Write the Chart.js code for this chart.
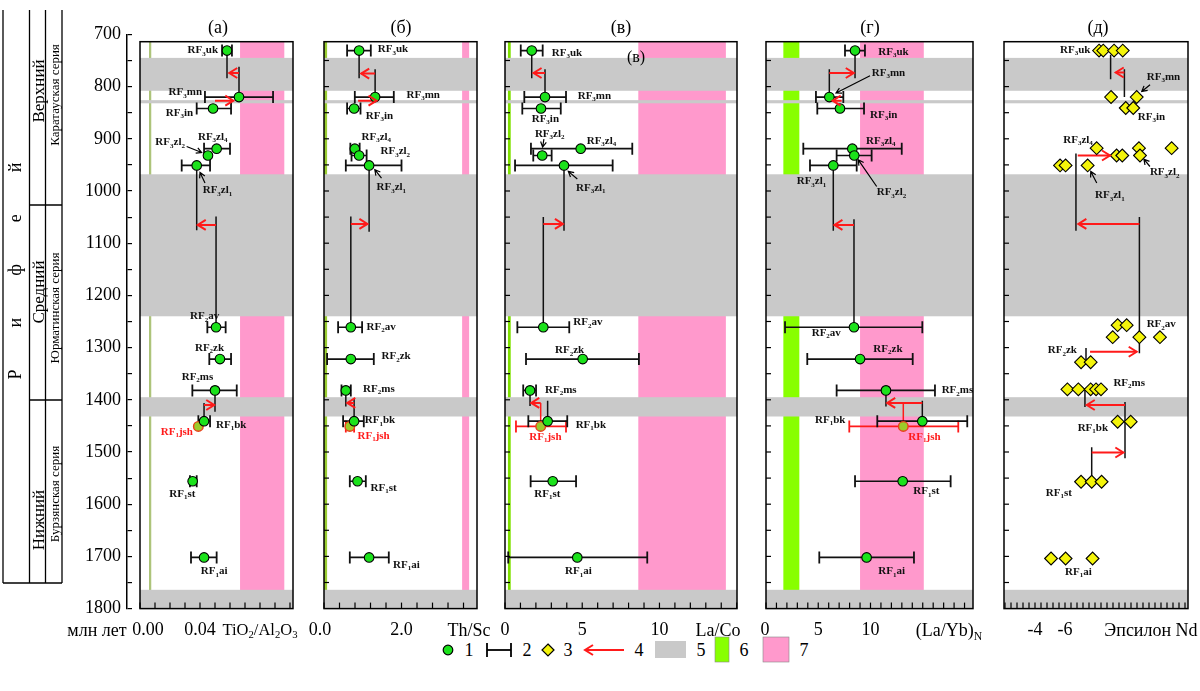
<!DOCTYPE html>
<html lang="ru">
<head>
<meta charset="utf-8">
<title>Рифей</title>
<script src="https://cdn.jsdelivr.net/npm/chart.js@4.4.1/dist/chart.umd.min.js"></script>
<style>
html,body{margin:0;padding:0;background:#fff;}
#page{position:relative;width:1200px;height:691px;overflow:hidden;font-family:"Liberation Serif","Times New Roman",serif;color:#000;}
#page canvas{position:absolute;left:0;top:0;}
#page svg{position:absolute;left:0;top:0;}
.t{position:absolute;white-space:nowrap;transform:translate(-50%,-50%);line-height:1;font-size:18px;}
.r{position:absolute;white-space:nowrap;transform:translate(-50%,-50%) rotate(-90deg);line-height:1;}
sub{font-size:0.65em;vertical-align:-0.3em;line-height:0;}
</style>
</head>
<body>
<div id="page">
<svg width="1200" height="691" font-family="Liberation Serif" font-size="18">
  <g stroke="#000" stroke-width="1.3" fill="none">
    <line x1="3" y1="10" x2="3" y2="583"/>
    <line x1="29.5" y1="10" x2="29.5" y2="583"/>
    <line x1="45.5" y1="10" x2="45.5" y2="583"/>
    <line x1="62" y1="10" x2="62" y2="583"/>
    <line x1="3" y1="583" x2="62" y2="583"/>
    <line x1="29.5" y1="205" x2="62" y2="205"/>
    <line x1="29.5" y1="400" x2="62" y2="400"/>
  </g>
  <!-- legend -->
  <circle cx="448" cy="650" r="4.8" fill="#1be21b" stroke="#000" stroke-width="1.2"/>
  <text x="469" y="650" text-anchor="middle" dominant-baseline="central">1</text>
  <g stroke="#000" stroke-width="1.8"><line x1="487" y1="650" x2="511" y2="650"/><line x1="487" y1="643" x2="487" y2="657"/><line x1="511" y1="643" x2="511" y2="657"/></g>
  <text x="527" y="650" text-anchor="middle" dominant-baseline="central">2</text>
  <polygon points="548,644 554,650 548,656 542,650" fill="#f4f40a" stroke="#000" stroke-width="1.2"/>
  <text x="568" y="650" text-anchor="middle" dominant-baseline="central">3</text>
  <g stroke="#ff1a1a" stroke-width="2" fill="none"><line x1="585" y1="650" x2="624" y2="650"/><polyline points="593,645 585,650 593,655"/></g>
  <text x="639" y="650" text-anchor="middle" dominant-baseline="central">4</text>
  <rect x="655" y="641" width="31" height="17" fill="#c9c9c9"/>
  <text x="701" y="650" text-anchor="middle" dominant-baseline="central">5</text>
  <rect x="715" y="637" width="14" height="25" fill="#88ff00" stroke="#888" stroke-width="0.6"/>
  <text x="744" y="650" text-anchor="middle" dominant-baseline="central">6</text>
  <rect x="763" y="637" width="26" height="25" fill="#ff99cc" stroke="#888" stroke-width="0.6"/>
  <text x="804" y="650" text-anchor="middle" dominant-baseline="central">7</text>
</svg>

<canvas id="cAxis" width="1200" height="691"></canvas>
<canvas id="ca" width="1200" height="691"></canvas>
<canvas id="cb" width="1200" height="691"></canvas>
<canvas id="cc" width="1200" height="691"></canvas>
<canvas id="cd" width="1200" height="691"></canvas>
<canvas id="ce" width="1200" height="691"></canvas>

<!-- stratigraphic column -->
<div class="r" style="left:15px;top:250px;font-size:18px;letter-spacing:42px;">Рифей</div>
<div class="r" style="left:37.5px;top:91px;font-size:17px;">Верхний</div>
<div class="r" style="left:37.5px;top:292px;font-size:17px;">Средний</div>
<div class="r" style="left:37.5px;top:520px;font-size:17px;">Нижний</div>
<div class="r" style="left:54px;top:95px;font-size:13px;">Каратауская серия</div>
<div class="r" style="left:54px;top:308px;font-size:13px;">Юрматинская серия</div>
<div class="r" style="left:54px;top:494px;font-size:13px;">Бурзянская серия</div>

<!-- panel titles -->
<div class="t" style="left:218px;top:27px;">(а)</div>
<div class="t" style="left:401px;top:27px;">(б)</div>
<div class="t" style="left:621px;top:27px;">(в)</div>
<div class="t" style="left:870px;top:27px;">(г)</div>
<div class="t" style="left:1098px;top:27px;">(д)</div>
<div class="t" style="left:636px;top:57px;font-size:16px;">(в)</div>

<!-- axis titles -->
<div class="t" style="left:97px;top:630px;">млн лет</div>
<div class="t" style="left:260px;top:630px;font-size:16.5px;">TiO<sub>2</sub>/Al<sub>2</sub>O<sub>3</sub></div>
<div class="t" style="left:469px;top:630px;">Th/Sc</div>
<div class="t" style="left:718px;top:630px;">La/Co</div>
<div class="t" style="left:949px;top:630px;">(La/Yb)<sub>N</sub></div>
<div class="t" style="left:1151px;top:630px;">Эпсилон Nd</div>
</div>

<script>
// ================= DATA =================
const unitLabels = ['RF_3uk','RF_3mn','RF_3in','RF_3zl_4','RF_3zl_2','RF_3zl_1','RF_2av','RF_2zk','RF_2ms','RF_1bk','RF_1jsh','RF_1st','RF_1ai'];
const ages = [731, 820, 842, 919, 932, 951, 1261, 1322, 1382, 1441, 1451, 1556, 1702];
const JSH = 10;
const ageTicksMajor = [700, 800, 900, 1000, 1100, 1200, 1300, 1400, 1500, 1600, 1700, 1800];
const grayBands = [[745, 808], [826, 832], [968, 1240], [1395, 1432], [1764, 1800]];

// (а) TiO2/Al2O3
const tiAl   = [0.058, 0.066, 0.0487, 0.0511, 0.0453, 0.0378, 0.0507, 0.0533, 0.050, 0.0427, 0.0389, 0.0351, 0.0427];
const tiAlLo = [0.0547, 0.0433, 0.0378, 0.0427, null, 0.0278, 0.0449, 0.0462, 0.0349, 0.0389, null, 0.0333, 0.034];
const tiAlHi = [0.0613, 0.0887, 0.0607, 0.060, null, 0.0467, 0.0571, 0.0607, 0.0645, 0.0467, null, 0.0378, 0.0511];
const tiAlGreen = [0.006, 0.0075];
const tiAlPink = [0.0667, 0.0962];
const tiAlLinks = [[0.058, 731, 784], [0.066, 762, 820], [0.0378, 951, 1075], [0.0507, 1049, 1261], [0.050, 1382, 1423], [0.0427, 1406, 1441]];
const tiAlRedLinks = [];
const tiAlArrows = [[774, 0.066, 0.0595], [827, 0.050, 0.0622], [1065, 0.0507, 0.0385], [1410, 0.0427, 0.0495]];
const tiAlTicks = [[0, '0.00'], [0.04, '0.04']];

// (б) Th/Sc
const thSc   = [0.906, 1.319, 0.777, 0.795, 0.906, 1.164, 0.692, 0.692, 0.563, 0.777, 0.666, 0.865, 1.164];
const thScLo = [0.596, 0.795, 0.596, 0.68, 0.71, 0.563, 0.364, 0.08, 0.452, 0.493, 0.563, 0.666, 0.666];
const thScHi = [1.208, 1.801, 0.942, 0.92, 1.10, 2.0, 0.983, 1.285, 0.692, 1.027, 0.777, 1.079, 1.672];
const thScGreen = [0.0, 0.08];
const thScPink = [3.564, 3.745];
const thScLinks = [[0.906, 731, 784], [1.319, 767, 820], [1.164, 951, 1078], [0.692, 1049, 1261], [0.563, 1382, 1413], [0.777, 1397, 1441]];
const thScRedLinks = [];
const thScArrows = [[775, 1.319, 0.96], [827, 0.88, 1.355], [1063, 0.692, 1.12], [1406, 0.777, 0.60]];
const thScTicks = [[0, '0.0'], [2, '2.0']];

// (в) La/Co
const laCo   = [1.73, 2.59, 2.33, 4.90, 2.41, 3.82, 2.48, 5.03, 1.62, 2.76, 2.31, 3.09, 4.68];
const laCoLo = [1.02, 1.25, 1.12, 1.68, 1.83, 0.65, 0.80, 1.36, 1.18, 1.51, 0.71, 1.66, 0.21];
const laCoHi = [2.44, 3.95, 3.61, 8.24, 3.02, 6.97, 4.16, 8.67, 2.01, 4.03, 3.95, 4.60, 9.21];
const laCoGreen = [0.19, 0.37];
const laCoPink = [8.63, 14.3];
const laCoLinks = [[1.73, 731, 784], [2.59, 767, 820], [3.82, 951, 1076], [2.48, 1050, 1261], [1.62, 1382, 1412], [2.76, 1402, 1441]];
const laCoRedLinks = [[2.31, 1406, 1451]];
const laCoArrows = [[774, 2.59, 1.85], [1063, 2.48, 3.75], [1406, 2.31, 1.7]];
const laCoTicks = [[0, '0'], [5, '5'], [10, '10']];

// (г) (La/Yb)N
const laYb   = [8.52, 6.06, 7.08, 8.26, 8.45, 6.44, 8.42, 9.0, 11.48, 14.96, 13.14, 13.08, 9.63];
const laYbLo = [7.56, 4.78, 4.91, 3.57, 6.76, 4.21, 1.82, 3.95, 6.76, 10.65, 7.97, 8.52, 5.1];
const laYbHi = [9.47, 7.40, 9.38, 12.99, 10.11, 8.68, 14.96, 14.04, 16.17, 19.26, 18.4, 17.67, 14.16];
const laYbGreen = [1.66, 3.19];
const laYbPink = [9.0, 15.1];
const laYbLinks = [[8.52, 731, 784], [6.06, 767, 820], [6.44, 951, 1076], [8.42, 1054, 1261], [11.48, 1382, 1413], [14.96, 1402, 1441]];
const laYbRedLinks = [[13.14, 1406, 1451]];
const laYbArrows = [[774, 6.06, 8.4], [827, 7.24, 6.38], [1065, 8.42, 6.55], [1406, 14.96, 11.6]];
const laYbTicks = [[0, '0'], [5, '5'], [10, '10']];

// (д) Epsilon Nd (diamonds, by group)
const ndUk  = [-8.27, -8.55, -9.27, -9.85];
const ndMn  = [-9.07, -10.78];
const ndIn  = [-10.05, -10.55];
const ndZl4 = [-8.11, -10.93, -13.11];
const ndZl2 = [-9.44, -9.82, -11.0];
const ndZl1 = [-5.67, -6.04, -7.51];
const ndAvA = [-9.51, -10.11];
const ndAvB = [-9.18, -10.96, -12.33];
const ndZk  = [-7.07, -7.71];
const ndMs  = [-6.16, -6.89, -7.71, -8.07, -8.4];
const ndBk  = [-9.51, -10.38];
const ndSt  = [-7.07, -7.78, -8.44];
const ndAi  = [-5.07, -6.04, -7.84];
const ndGroupAges = [731, 820, 841, 918, 932, 951, 1257, 1280, 1328, 1380, 1442, 1557, 1704];
const ndGroupLabels = ['RF_3uk','RF_3mn','RF_3in','RF_3zl_4','RF_3zl_2','RF_3zl_1','RF_2av',null,'RF_2zk','RF_2ms','RF_1bk','RF_1st','RF_1ai'];
const ndLinks = [[-9.04, 739, 786], [-9.96, 767, 820], [-6.73, 928, 1076], [-10.96, 1050, 1311], [-7.4, 1301, 1333], [-7.33, 1378, 1414], [-10.0, 1404, 1512], [-7.78, 1491, 1557]];
const ndArrows = [[773, -9.96, -9.38], [932, -6.85, -9.0], [1063, -10.96, -6.89], [1308, -7.67, -10.78], [1410, -10.0, -7.45], [1501, -7.78, -9.89]];
const ndTicks = [[-4, '-4'], [-6, '-6']];

// ================= LAYOUT / STYLE =================
const W = 1200, H = 691, TOP = 41.7, BOT = 608.6, AGE_MIN = 714, AGE_MAX = 1800;
const FONT = '"Liberation Serif","Times New Roman",serif';
const GRAY = '#c9c9c9', PINK = '#ff99cc', RED = '#ff1a1a';

// label offsets (px from point): [dx, dy, align]
const aLabelPos = [[-9,0,'right'],[-37,-4.6,'right'],[-20,4.8,'right'],[-18.7,-11.7,'left'],[-23,-13,'right'],[6,25,'left'],
  [-26,-10.6,'left'],[-25,-11,'left'],[-33.3,-13.2,'left'],[12,3.7,'left'],[-37.6,5.4,'left'],[-23.4,13,'left'],[-3.3,14,'left']];
const bLabelPos = [[18.7,-1,'left'],[31.4,-2.3,'left'],[11.7,7.2,'left'],[6.7,-11.4,'left'],[21.4,-4,'left'],[7.4,22,'left'],
  [15.7,0,'left'],[30.7,-2.6,'left'],[17.3,-1.2,'left'],[10.7,-0.6,'left'],[7.7,9.4,'left'],[13,7,'left'],[24,7.3,'left']];
const cLabelPos = [[20,2.8,'left'],[32.7,-1.3,'left'],[-9.3,10.8,'left'],[6,-8,'left'],[-7.3,-21.7,'left'],[12,22.6,'left'],
  [30,-4.6,'left'],[-27.7,-8.6,'left'],[15,-0.5,'left'],[28,3.7,'left'],[-11.4,10.4,'left'],[-18.4,13,'left'],[-12.3,14,'left']];
const gLabelPos = [[23.3,1.2,'left'],[42.4,-24,'left'],[30,6.5,'left'],[13.7,-8,'left'],[22.4,37,'left'],[-36.6,16,'left'],
  [-42.3,6,'left'],[13.3,-10,'left'],[55.7,0.2,'left'],[-107.3,-1.3,'left'],[5,10.4,'left'],[10.6,10.4,'left'],[11.6,14,'left']];
const eLabelPos = [[-39,-0.5,'left'],[35.7,-20,'left'],[12,8.8,'left'],[-33.4,-8,'left'],[33.3,17,'left'],[35,30,'left'],
  [29,-0.7,'left'],null,[-33.3,-11.6,'left'],[46,-6.6,'left'],[-40,6.6,'left'],[-35.3,11.6,'left'],[14,13.4,'left']];
// pointer arrows: [index, x0, y0, x1, y1] relative to point
const aPointers = [[4,-21.3,-9,-6.3,-3],[5,8.3,17.6,3.3,7]];
const bPointers = [[5,12.4,12.6,5.7,4.3]];
const cPointers = [[4,1.7,-16.4,0.4,-8.4],[5,13.3,13.6,4.3,6]];
const gPointers = [[1,40.7,-21.3,6.7,-4],[4,22.4,31,4,4.3]];
const ePointers = [[1,39,-12.3,30.7,-5.6],[4,33.3,11,27.3,3.6],[5,36.7,17.6,30.7,6]];

// ================= HELPERS =================
function drawRich(ctx, str, x, y, align, size, color) {
  const segs = []; let i = 0;
  while (i < str.length) {
    if (str[i] === '_') { segs.push({t: str[i+1], sub: true}); i += 2; }
    else { let j = i; while (j < str.length && str[j] !== '_') j++; segs.push({t: str.slice(i, j), sub: false}); i = j; }
  }
  const fN = `bold ${size}px ${FONT}`, fS = `bold ${Math.round(size*0.68)}px ${FONT}`;
  let w = 0;
  segs.forEach(s => { ctx.font = s.sub ? fS : fN; s.w = ctx.measureText(s.t).width; w += s.w; });
  let cx = align === 'right' ? x - w : (align === 'center' ? x - w/2 : x);
  ctx.fillStyle = color; ctx.textBaseline = 'middle'; ctx.textAlign = 'left';
  segs.forEach(s => { ctx.font = s.sub ? fS : fN; ctx.fillText(s.t, cx, s.sub ? y + size*0.3 : y); cx += s.w; });
}
function chevron(ctx, x, y, dir, L, Wd) {
  ctx.beginPath(); ctx.moveTo(x - dir*L, y - Wd); ctx.lineTo(x, y); ctx.lineTo(x - dir*L, y + Wd); ctx.stroke();
}
function pointer(ctx, x0, y0, x1, y1) {
  ctx.beginPath(); ctx.moveTo(x0, y0); ctx.lineTo(x1, y1);
  const a = Math.atan2(y1 - y0, x1 - x0), L = 6;
  ctx.moveTo(x1 - L*Math.cos(a - 0.5), y1 - L*Math.sin(a - 0.5));
  ctx.lineTo(x1, y1);
  ctx.lineTo(x1 - L*Math.cos(a + 0.5), y1 - L*Math.sin(a + 0.5));
  ctx.stroke();
}
function segData(rows, mk) {
  const d = [];
  rows.forEach(r => { const [p, q] = mk(r); d.push(p, q, {x: q.x, y: null}); });
  return d;
}

function panelPlugin(P) {
  return {
    id: 'deco_' + P.id,
    beforeDatasetsDraw(chart) {
      const {ctx, chartArea: a, scales: {x, y}} = chart;
      ctx.save();
      (P.vbands || []).forEach(([rng, color]) => {
        const p0 = x.getPixelForValue(rng[0]), p1 = x.getPixelForValue(rng[1]);
        ctx.fillStyle = color; ctx.fillRect(Math.min(p0, p1), a.top, Math.abs(p1 - p0), a.bottom - a.top);
      });
      grayBands.forEach(([t0, t1]) => {
        const q0 = y.getPixelForValue(Math.max(t0, AGE_MIN)), q1 = y.getPixelForValue(t1);
        ctx.fillStyle = GRAY; ctx.fillRect(a.left, Math.min(q0, q1), a.right - a.left, Math.abs(q1 - q0));
      });
      ctx.restore();
    },
    afterDatasetsDraw(chart) {
      const {ctx, chartArea: a, scales: {x, y}} = chart;
      ctx.save();
      ctx.strokeStyle = RED; ctx.lineWidth = 2;
      P.arrows.forEach(([age, x0, x1]) => {
        const p0 = x.getPixelForValue(x0), p1 = x.getPixelForValue(x1), py = y.getPixelForValue(age);
        chevron(ctx, p1, py, p1 > p0 ? 1 : -1, 8, 5);
      });
      ctx.strokeStyle = '#000'; ctx.lineWidth = 1.2;
      P.labels.forEach(L => {
        if (!L.pos) return;
        const px = x.getPixelForValue(L.x), py = y.getPixelForValue(L.y);
        drawRich(ctx, L.text, px + L.pos[0], py + L.pos[1], L.pos[2], 11, L.red ? RED : '#111');
      });
      P.pointers.forEach(([i, x0, y0, x1, y1]) => {
        const L = P.labels[i];
        const px = x.getPixelForValue(L.x), py = y.getPixelForValue(L.y);
        pointer(ctx, px + x0, py + y0, px + x1, py + y1);
      });
      ctx.strokeStyle = '#000'; ctx.lineWidth = 1.5;
      ctx.strokeRect(a.left, a.top, a.right - a.left, a.bottom - a.top);
      ctx.lineWidth = 1.2;
      const lo = Math.min(x.min, x.max), hi = Math.max(x.min, x.max);
      for (let k = Math.ceil(lo / P.tickStep - 1e-6); k * P.tickStep <= hi + 1e-9; k++) {
        const px = x.getPixelForValue(k * P.tickStep);
        ctx.beginPath(); ctx.moveTo(px, a.bottom); ctx.lineTo(px, a.bottom - 6); ctx.stroke();
      }
      if (P.leftTicks) {
        for (let t = 750; t < AGE_MAX; t += 50) {
          const py = y.getPixelForValue(t);
          ctx.beginPath(); ctx.moveTo(a.left, py); ctx.lineTo(a.left + 5, py); ctx.stroke();
        }
      }
      ctx.fillStyle = '#000'; ctx.font = `18px ${FONT}`; ctx.textAlign = 'center'; ctx.textBaseline = 'middle';
      P.ticks.forEach(([v, txt], k) => {
        ctx.fillText(txt, x.getPixelForValue(v) + (P.tickDx[k] || 0), 630);
      });
      ctx.restore();
    }
  };
}

function buildPanel(P) {
  const ds = [];
  if (P.vals) {
    const idx = P.vals.map((_, i) => i);
    const main = idx.filter(i => i !== JSH);
    ds.push({data: main.map(i => ({x: P.vals[i], y: ages[i]})), pointStyle: 'circle', pointRadius: 4.8,
      pointBackgroundColor: '#1be21b', pointBorderColor: '#000', pointBorderWidth: 1.1, showLine: false, order: 0});
    ds.push({data: [{x: P.vals[JSH], y: ages[JSH]}], pointStyle: 'circle', pointRadius: 4.8,
      pointBackgroundColor: '#9ccc2a', pointBorderColor: '#e8401a', pointBorderWidth: 1.4, showLine: false, order: 0});
    const errIdx = main.filter(i => P.lo[i] != null);
    ds.push({data: segData(errIdx, i => [{x: P.lo[i], y: ages[i]}, {x: P.hi[i], y: ages[i]}]),
      showLine: true, borderColor: '#111', borderWidth: 1.7, pointStyle: 'line', rotation: 90, pointRadius: 6,
      pointBorderColor: '#111', pointBorderWidth: 1.8, order: 2});
    if (P.lo[JSH] != null) {
      ds.push({data: segData([JSH], i => [{x: P.lo[i], y: ages[i]}, {x: P.hi[i], y: ages[i]}]),
        showLine: true, borderColor: RED, borderWidth: 1.7, pointStyle: 'line', rotation: 90, pointRadius: 6,
        pointBorderColor: RED, pointBorderWidth: 1.8, order: 2});
    }
    P.labels = P.vals.map((v, i) => ({x: v, y: ages[i], text: unitLabels[i], pos: P.labelPos[i], red: i === JSH}));
  }
  if (P.groups) {
    const pts = [];
    P.groups.forEach((g, gi) => g.forEach(v => pts.push({x: v, y: ndGroupAges[gi]})));
    ds.push({data: pts, pointStyle: 'rectRot', pointRadius: 6.4, pointBackgroundColor: '#f4f40a',
      pointBorderColor: '#000', pointBorderWidth: 1.1, showLine: false, order: 0});
    P.labels = P.groups.map((g, gi) => ({x: g[0], y: ndGroupAges[gi], text: ndGroupLabels[gi] || '', pos: ndGroupLabels[gi] ? P.labelPos[gi] : null, red: false}));
  }
  ds.push({data: segData(P.links, r => [{x: r[0], y: r[1]}, {x: r[0], y: r[2]}]), showLine: true,
    borderColor: '#111', borderWidth: 1.5, pointRadius: 0, order: 3});
  if (P.redLinks.length) ds.push({data: segData(P.redLinks, r => [{x: r[0], y: r[1]}, {x: r[0], y: r[2]}]), showLine: true,
    borderColor: RED, borderWidth: 1.5, pointRadius: 0, order: 3});
  ds.push({data: segData(P.arrows, r => [{x: r[1], y: r[0]}, {x: r[2], y: r[0]}]), showLine: true,
    borderColor: RED, borderWidth: 2, pointRadius: 0, order: 1});

  new Chart(document.getElementById(P.canvas), {
    type: 'scatter',
    data: {datasets: ds},
    options: {
      responsive: false, animation: false, events: [],
      layout: {padding: {left: P.left, right: W - P.right, top: TOP, bottom: H - BOT}},
      scales: {
        x: {type: 'linear', display: false, min: P.min, max: P.max, reverse: !!P.reverse},
        y: {type: 'linear', display: false, min: AGE_MIN, max: AGE_MAX, reverse: true}
      },
      plugins: {legend: {display: false}, tooltip: {enabled: false}}
    },
    plugins: [panelPlugin(P)]
  });
}

// ---- age axis ----
new Chart(document.getElementById('cAxis'), {
  type: 'scatter',
  data: {datasets: []},
  options: {
    responsive: false, animation: false, events: [],
    layout: {padding: {left: 77, right: W - 132, top: 34.5, bottom: H - 608.6}},
    scales: {
      x: {type: 'linear', display: false, min: 0, max: 1},
      y: {type: 'linear', position: 'left', min: 700, max: 1800, reverse: true,
        afterFit(s) { s.width = 50; },
        afterBuildTicks(s) {
          const t = []; for (let v = 700; v <= 1800; v += 50) t.push({value: v});
          s.ticks = t;
        },
        ticks: {autoSkip: false, padding: 6, color: '#000', font: {family: 'Liberation Serif', size: 18},
          callback: v => ageTicksMajor.includes(v) ? String(v) : ''},
        grid: {drawTicks: false, color: '#000', lineWidth: 1.2, drawOnChartArea: true},
        border: {display: true, color: '#000', width: 1.5}}
    },
    plugins: {legend: {display: false}, tooltip: {enabled: false}}
  }
});

buildPanel({id: 'a', canvas: 'ca', left: 140, right: 293, min: 0, max: 0.102,
  vals: tiAl, lo: tiAlLo, hi: tiAlHi, vbands: [[tiAlGreen, '#adc47a'], [tiAlPink, PINK]],
  links: tiAlLinks, redLinks: tiAlRedLinks, arrows: tiAlArrows, tickStep: 0.01, ticks: tiAlTicks, tickDx: [8, 0],
  labelPos: aLabelPos, pointers: aPointers, leftTicks: false});
buildPanel({id: 'b', canvas: 'cb', left: 324, right: 477, min: 0, max: 3.948,
  vals: thSc, lo: thScLo, hi: thScHi, vbands: [[thScGreen, '#9acd32'], [thScPink, PINK]],
  links: thScLinks, redLinks: thScRedLinks, arrows: thScArrows, tickStep: 0.4, ticks: thScTicks, tickDx: [-4, 0],
  labelPos: bLabelPos, pointers: bPointers, leftTicks: true});
buildPanel({id: 'c', canvas: 'cc', left: 505, right: 737, min: 0, max: 15.02,
  vals: laCo, lo: laCoLo, hi: laCoHi, vbands: [[laCoGreen, '#7fe000'], [laCoPink, PINK]],
  links: laCoLinks, redLinks: laCoRedLinks, arrows: laCoArrows, tickStep: 1, ticks: laCoTicks, tickDx: [0, 0, 0],
  labelPos: cLabelPos, pointers: cPointers, leftTicks: true});
buildPanel({id: 'd', canvas: 'cd', left: 766, right: 973, min: 0, max: 19.81,
  vals: laYb, lo: laYbLo, hi: laYbHi, vbands: [[laYbGreen, '#88ff00'], [laYbPink, PINK]],
  links: laYbLinks, redLinks: laYbRedLinks, arrows: laYbArrows, tickStep: 1, ticks: laYbTicks, tickDx: [-1, 0, 0],
  labelPos: gLabelPos, pointers: gPointers, leftTicks: true});
buildPanel({id: 'e', canvas: 'ce', left: 1004, right: 1188, min: -14.2, max: -1.933, reverse: true,
  groups: [ndUk, ndMn, ndIn, ndZl4, ndZl2, ndZl1, ndAvA, ndAvB, ndZk, ndMs, ndBk, ndSt, ndAi], vbands: [],
  links: ndLinks, redLinks: [], arrows: ndArrows, tickStep: 0.4, ticks: ndTicks, tickDx: [0, 0],
  labelPos: eLabelPos, pointers: ePointers, leftTicks: true});
</script>
</body>
</html>
